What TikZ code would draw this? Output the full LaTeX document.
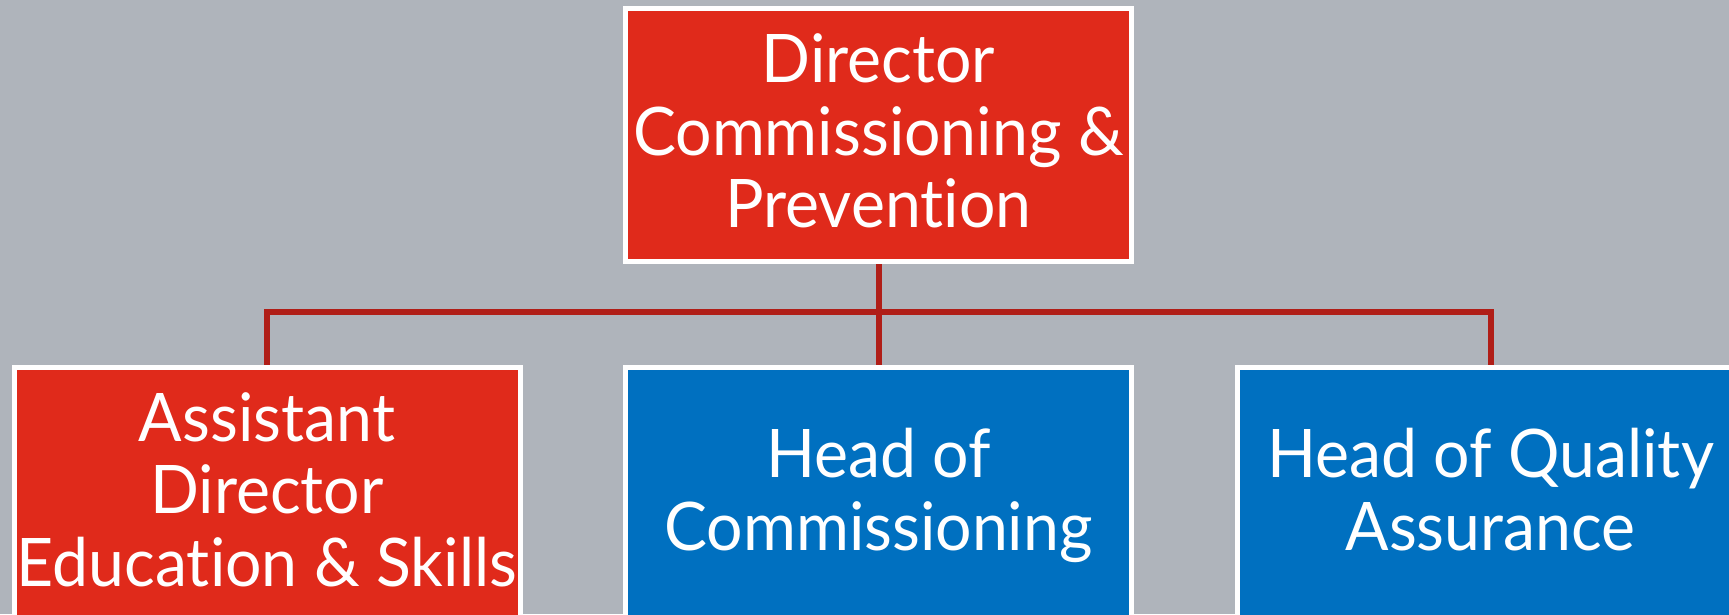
\documentclass[tikz,border=0pt]{standalone}
\usepackage{fontspec}
\setmainfont{Lato}[Ligatures=NoCommon, FakeStretch=0.96]
\definecolor{slide}{RGB}{175,180,187}
\definecolor{boxred}{RGB}{224,42,27}
\definecolor{boxblue}{RGB}{0,112,192}
\definecolor{linkred}{RGB}{176,30,23}

\begin{document}
\begin{tikzpicture}[x=1pt, y=-1pt,
        box/.style={rectangle, draw=white, line width=5pt, inner sep=2pt, minimum width=506pt, minimum height=253pt, text depth=8pt, text=white, align=center, font=\fontsize{67}{72.5}\selectfont},
        link/.style={draw=linkred, line width=6pt}]
        \useasboundingbox (0,0) rectangle (1729,614);
        \clip (0,0) rectangle (1729,614);
        \fill[slide] (0,0) rectangle (1729,614);

        \node[box, fill=boxred] (1) at (878.5,135) {Director\\Commissioning \&\\Prevention};
        \node[box, fill=boxred, anchor=north] (2) at (267,364.5) {Assistant\\Director\\Education \& Skills};
        \node[box, fill=boxblue, anchor=north] (3) at (878.5,364.5) {Head of\\Commissioning};
        \node[box, fill=boxblue, anchor=north] (4) at (1490.5,364.5) {Head of Quality\\Assurance};

        \coordinate (bar) at (878.5,311.5);
        \draw[link] (1.south) -- (3.north);
        \draw[link] (2.north) |- (bar) -| (4.north);
    \end{tikzpicture}
\end{document}
